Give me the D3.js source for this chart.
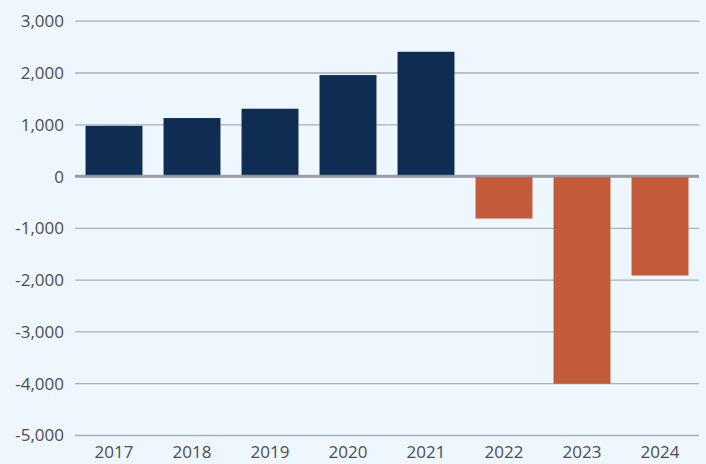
<!DOCTYPE html>
<html><head><meta charset="utf-8">
<script src="https://cdn.jsdelivr.net/npm/d3@7"></script>
<style>
html,body{margin:0;padding:0;background:#eef7fe;}
svg{display:block;}
text{font-family:"Open Sans","Noto Sans",sans-serif;}
</style></head>
<body><svg id="c" width="706" height="464"></svg>
<script>
const years = ["2017","2018","2019","2020","2021","2022","2023","2024"];
const values = [970, 1120, 1300, 1950, 2400, -820, -4010, -1920];
const yTicks = [3000, 2000, 1000, 0, -1000, -2000, -3000, -4000, -5000];

const svg = d3.select("#c");
const W = 706, H = 464;
const m = {left: 75, right: 7, top: 20.7, bottom: 29};
const x = d3.scaleBand().domain(years).range([m.left, W - m.right]).paddingInner(0.27).paddingOuter(0.135);
const y = d3.scaleLinear().domain([-5000, 3000]).range([435, 20.7]);

svg.append("rect").attr("width", W).attr("height", H).attr("fill", "#eef7fe");

const fmt = d3.format(",");
const yAxis = svg.append("g").attr("transform", `translate(${m.left},0)`)
  .call(d3.axisLeft(y).tickValues(yTicks).tickSize(-(W - m.right - m.left)).tickPadding(11).tickFormat(d => fmt(d).replace("−", "-")));
yAxis.select(".domain").remove();
yAxis.selectAll(".tick line").attr("stroke", d => d === 0 ? "#9a9ea3" : "#a9b0b6").attr("stroke-width", d => d === 0 ? 2.5 : 1.3);
yAxis.selectAll(".tick text").attr("fill", "#4d4d4d").attr("font-size", 17).attr("dy", "0.35em");

svg.append("g").selectAll("rect").data(values).join("rect")
  .attr("x", (d, i) => x(years[i]))
  .attr("width", x.bandwidth())
  .attr("y", d => y(Math.max(0, d)))
  .attr("height", d => Math.abs(y(d) - y(0)))
  .attr("fill", d => d >= 0 ? "#0f2d52" : "#c35b3b");

// redraw zero line on top
svg.append("line").attr("x1", m.left).attr("x2", W - m.right).attr("y1", y(0)).attr("y2", y(0))
  .attr("stroke", "#9a9ea3").attr("stroke-width", 2.5).attr("opacity", 0.9);

const xAxis = svg.append("g").attr("transform", `translate(0,435)`)
  .call(d3.axisBottom(x).tickSize(0).tickPadding(11));
xAxis.select(".domain").remove();
xAxis.selectAll(".tick text").attr("fill", "#4d4d4d").attr("font-size", 17);
</script></body></html>
